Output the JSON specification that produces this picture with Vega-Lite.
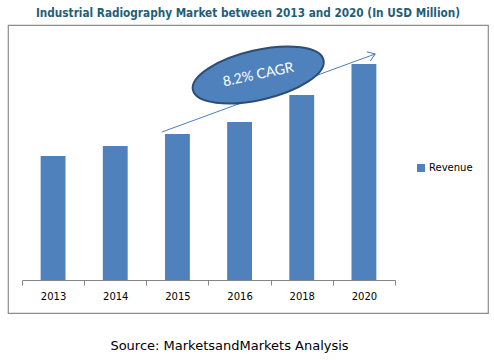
{
  "$schema": "https://vega.github.io/schema/vega-lite/v6.json",
  "autosize": "none",
  "width": 480,
  "height": 288,
  "padding": {"left": 8, "top": 25, "right": 6, "bottom": 47},
  "background": "white",
  "title": {
    "text": "Industrial Radiography Market between 2013 and 2020 (In USD Million)",
    "font": "'DejaVu Sans Condensed', 'Liberation Sans', sans-serif",
    "fontWeight": "bold",
    "fontSize": 11.7,
    "color": "#1F5E78",
    "anchor": "middle",
    "offset": 5
  },
  "config": {
    "view": {"stroke": "#8C8C8C", "strokeWidth": 1.2}
  },
  "datasets": {
    "revenue": [
      {"year": "2013", "revenue": 124, "series": "Revenue"},
      {"year": "2014", "revenue": 134, "series": "Revenue"},
      {"year": "2015", "revenue": 146, "series": "Revenue"},
      {"year": "2016", "revenue": 158, "series": "Revenue"},
      {"year": "2018", "revenue": 185, "series": "Revenue"},
      {"year": "2020", "revenue": 216, "series": "Revenue"}
    ],
    "arrow": [{"x1": 2.25, "y1": 148, "x2": 5.68, "y2": 226}],
    "bubble": [{"cx": 3.8, "cy": 205, "label": "8.2% CAGR"}]
  },
  "layer": [
    {
      "data": {"name": "revenue"},
      "mark": {"type": "bar", "width": {"band": 0.4}, "color": "#4F81BD"},
      "encoding": {
        "x": {
          "field": "year",
          "type": "nominal",
          "sort": null,
          "scale": {"range": [14, 387], "paddingInner": 0, "paddingOuter": 0},
          "axis": {
            "labelAngle": 0,
            "labelFont": "DejaVu Sans",
            "labelFontSize": 10,
            "labelColor": "#000000",
            "labelPadding": 6,
            "domainColor": "#868686",
            "tickColor": "#868686",
            "tickSize": 5,
            "tickBand": "extent",
            "offset": -33,
            "title": "Source: MarketsandMarkets Analysis",
            "titleFont": "DejaVu Sans",
            "titleFontSize": 13,
            "titleFontWeight": "normal",
            "titleColor": "#000000",
            "titleX": 221,
            "titleY": 65,
            "titleAlign": "center",
            "titleBaseline": "middle"
          }
        },
        "y": {
          "field": "revenue",
          "type": "quantitative",
          "scale": {"domain": [-33, 255], "nice": false, "zero": false},
          "axis": null
        },
        "color": {
          "field": "series",
          "type": "nominal",
          "scale": {"range": ["#4F81BD"]},
          "legend": {
            "title": null,
            "orient": "none",
            "legendX": 408,
            "legendY": 138,
            "padding": 0,
            "symbolType": "square",
            "symbolSize": 64,
            "symbolStrokeWidth": 0,
            "labelFont": "DejaVu Sans",
            "labelFontSize": 10,
            "labelColor": "#000000",
            "labelOffset": 3
          }
        }
      }
    },
    {
      "data": {"name": "arrow"},
      "mark": {"type": "rule", "color": "#4A7EBB", "strokeWidth": 1},
      "encoding": {
        "x": {"field": "x1", "type": "quantitative", "scale": {"domain": [0, 6], "range": [14, 387], "nice": false, "zero": false}, "axis": null},
        "x2": {"field": "x2"},
        "y": {"field": "y1", "type": "quantitative"},
        "y2": {"field": "y2"}
      }
    },
    {
      "data": {"name": "arrow"},
      "mark": {
        "type": "point",
        "shape": "M -1 -0.7 L 0 0 L -1 0.7",
        "filled": false,
        "stroke": "#4A7EBB",
        "strokeWidth": 1,
        "size": 196,
        "angle": -20,
        "opacity": 1
      },
      "encoding": {
        "x": {"field": "x2", "type": "quantitative", "scale": {"domain": [0, 6], "range": [14, 387], "nice": false, "zero": false}, "axis": null},
        "y": {"field": "y2", "type": "quantitative"}
      }
    },
    {
      "data": {"name": "bubble"},
      "mark": {
        "type": "point",
        "shape": "M -1 0 A 1 0.37 0 1 1 1 0 A 1 0.37 0 1 1 -1 0 Z",
        "filled": true,
        "fill": "#4F81BD",
        "stroke": "#2C4D75",
        "strokeWidth": 2,
        "size": 17956,
        "angle": -13,
        "opacity": 1
      },
      "encoding": {
        "x": {"field": "cx", "type": "quantitative", "scale": {"domain": [0, 6], "range": [14, 387], "nice": false, "zero": false}, "axis": null},
        "y": {"field": "cy", "type": "quantitative"}
      }
    },
    {
      "data": {"name": "bubble"},
      "mark": {
        "type": "text",
        "font": "Lato",
        "fontSize": 14,
        "color": "#FFFFFF",
        "angle": -12,
        "align": "center",
        "baseline": "middle"
      },
      "encoding": {
        "x": {"field": "cx", "type": "quantitative", "scale": {"domain": [0, 6], "range": [14, 387], "nice": false, "zero": false}, "axis": null},
        "y": {"field": "cy", "type": "quantitative"},
        "text": {"field": "label"}
      }
    }
  ],
  "resolve": {"scale": {"x": "independent"}}
}
